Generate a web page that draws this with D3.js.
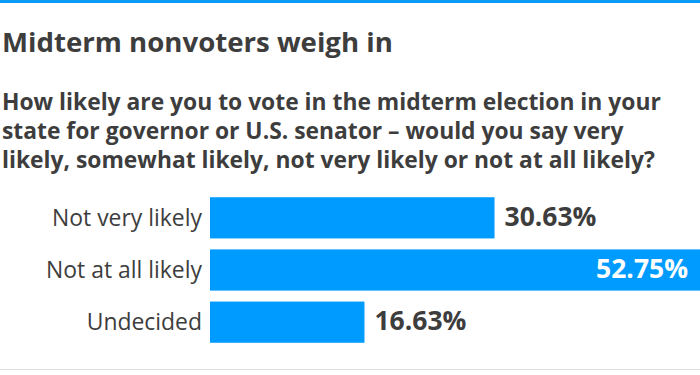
<!DOCTYPE html>
<html><head><meta charset="utf-8">
<script src="https://cdn.jsdelivr.net/npm/d3@7"></script>
<style>body{margin:0;background:#fff}svg{display:block}</style>
</head><body>
<script>
const categories = ["Not very likely", "Not at all likely", "Undecided"];
const values = [30.63, 52.75, 16.63];
const valueLabels = ["30.63%", "52.75%", "16.63%"];
const title = "Midterm nonvoters weigh in";
const questionLines = [
  "How likely are you to vote in the midterm election in your",
  "state for governor or U.S. senator – would you say very",
  "likely, somewhat likely, not very likely or not at all likely?"
];

const W = 700, H = 375;
const svg = d3.select("body").append("svg").attr("width", W).attr("height", H);
const font = "'Open Sans', Lato, sans-serif";
const textColor = "#3d3d3d";
const barColor = "#009bff";

// scale a selection's font size so that the first element reaches a target width
function fitWidth(sel, target) {
  const node = sel.node();
  const size = parseFloat(sel.attr("font-size"));
  const w = node.getComputedTextLength();
  sel.attr("font-size", size * target / w);
}

svg.append("rect").attr("x", 0).attr("y", 0).attr("width", W).attr("height", 3).attr("fill", "#0a9cf5");

const t = svg.append("text").attr("x", 2).attr("y", 52).text(title)
  .attr("font-family", font).attr("font-weight", 700).attr("font-size", 28).attr("fill", textColor);
fitWidth(t, 391);

const q = svg.selectAll("text.q").data(questionLines).join("text").attr("class", "q")
  .attr("x", 2).attr("y", (d, i) => 110 + i * 29).text(d => d)
  .attr("font-family", font).attr("font-weight", 700).attr("font-size", 22).attr("fill", textColor);
fitWidth(q, 659);

const x = d3.scaleLinear().domain([0, d3.max(values)]).range([210, 700]);
const y = d3.scaleBand().domain(categories).range([192, 348]).paddingInner(0.21).paddingOuter(0.1);

svg.selectAll("rect.bar").data(values).join("rect").attr("class", "bar")
  .attr("x", x(0)).attr("y", (d, i) => y(categories[i]))
  .attr("width", d => x(d) - x(0)).attr("height", y.bandwidth()).attr("fill", barColor);

const c = svg.selectAll("text.cat").data(categories).join("text").attr("class", "cat")
  .attr("x", 202).attr("y", d => y(d) + y.bandwidth() / 2 + 8)
  .attr("text-anchor", "end").text(d => d)
  .attr("font-family", font).attr("font-size", 21).attr("fill", textColor);
fitWidth(c, 150);

const maxV = d3.max(values);
const v = svg.selectAll("text.val").data(values).join("text").attr("class", "val")
  .attr("x", d => d === maxV ? x(d) - 12 : x(d) + 10)
  .attr("y", (d, i) => y(categories[i]) + y.bandwidth() / 2 + 8)
  .attr("text-anchor", d => d === maxV ? "end" : "start")
  .text((d, i) => valueLabels[i])
  .attr("font-family", font).attr("font-weight", 700).attr("font-size", 21)
  .attr("fill", d => d === maxV ? "#fff" : textColor);
fitWidth(v, 92);

svg.append("rect").attr("x", 0).attr("y", 369).attr("width", W).attr("height", 1).attr("fill", "#dddddd");
</script>
</body></html>
